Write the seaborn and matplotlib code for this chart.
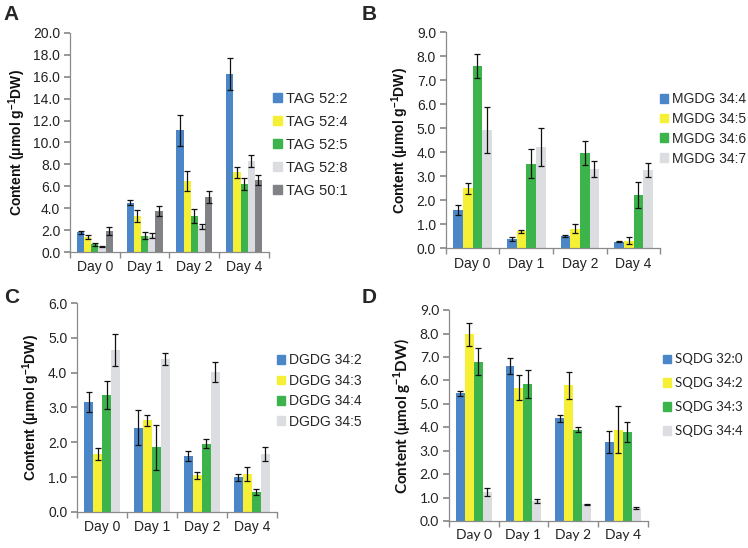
import numpy as np
import pandas as pd
import matplotlib
matplotlib.use("Agg")
import matplotlib.pyplot as plt
import matplotlib.patches as mpatches
from matplotlib.ticker import FormatStrFormatter, MultipleLocator, FixedLocator
import seaborn as sns

days = ["Day 0", "Day 1", "Day 2", "Day 4"]

tag_species = ["TAG 52:2", "TAG 52:4", "TAG 52:5", "TAG 52:8", "TAG 50:1"]
tag_mean = [[1.8, 4.5, 11.1, 16.25],
            [1.4, 3.3, 6.5, 7.3],
            [0.7, 1.5, 3.3, 6.25],
            [0.5, 1.5, 2.35, 8.35],
            [1.95, 3.75, 5.0, 6.55]]
tag_err = [[0.15, 0.25, 1.45, 1.45],
           [0.2, 0.55, 0.9, 0.5],
           [0.15, 0.3, 0.65, 0.55],
           [0.05, 0.2, 0.2, 0.55],
           [0.35, 0.45, 0.55, 0.45]]

mgdg_species = ["MGDG 34:4", "MGDG 34:5", "MGDG 34:6", "MGDG 34:7"]
mgdg_mean = [[1.6, 0.38, 0.5, 0.27],
             [2.5, 0.7, 0.82, 0.32],
             [7.6, 3.52, 3.97, 2.22],
             [4.93, 4.22, 3.3, 3.25]]
mgdg_err = [[0.2, 0.07, 0.05, 0.02],
            [0.22, 0.08, 0.2, 0.13],
            [0.5, 0.6, 0.5, 0.55],
            [0.97, 0.8, 0.32, 0.3]]

dgdg_species = ["DGDG 34:2", "DGDG 34:3", "DGDG 34:4", "DGDG 34:5"]
dgdg_mean = [[3.15, 2.42, 1.6, 1.0],
             [1.65, 2.63, 1.05, 1.08],
             [3.35, 1.85, 1.95, 0.57],
             [4.65, 4.4, 4.02, 1.65]]
dgdg_err = [[0.28, 0.5, 0.15, 0.1],
            [0.17, 0.15, 0.1, 0.2],
            [0.4, 0.65, 0.13, 0.1],
            [0.45, 0.17, 0.28, 0.2]]

sqdg_species = ["SQDG 32:0", "SQDG 34:2", "SQDG 34:3", "SQDG 34:4"]
sqdg_mean = [[5.45, 6.62, 4.38, 3.38],
             [7.97, 5.7, 5.8, 3.9],
             [6.8, 5.85, 3.9, 3.82],
             [1.25, 0.85, 0.72, 0.57]]
sqdg_err = [[0.12, 0.35, 0.15, 0.48],
            [0.48, 0.55, 0.58, 1.0],
            [0.58, 0.6, 0.1, 0.43],
            [0.17, 0.08, 0.01, 0.05]]

blue, yellow, green, lgray, dgray = "#4a86c8", "#f5f035", "#3cb44b", "#dcdde0", "#808285"

sns.set_theme(style="white")
plt.rcParams["font.family"] = ["Liberation Sans", "DejaVu Sans"]
plt.rcParams["mathtext.fontset"] = "custom"
plt.rcParams["mathtext.rm"] = "Liberation Sans"
plt.rcParams["mathtext.bf"] = "Liberation Sans:bold"

fig = plt.figure(figsize=(7.48, 5.48), dpi=100)

panels = [
    dict(letter="A", species=tag_species, mean=tag_mean, err=tag_err,
         colors=[blue, yellow, green, lgray, dgray], ymax=20, step=2,
         rect=[0.0936, 0.540, 0.266, 0.400], leg=(0.365, 0.833), letter_xy=(0.005, 0.99),
         spacing=0.62, font=["Liberation Sans", "DejaVu Sans"], ylsize=10, legsize=10.5),
    dict(letter="B", species=mgdg_species, mean=mgdg_mean, err=mgdg_err,
         colors=[blue, yellow, green, lgray], ymax=9, step=1,
         rect=[0.596, 0.547, 0.287, 0.394], leg=(0.882, 0.832), letter_xy=(0.484, 0.99),
         spacing=0.42, font=["Liberation Sans", "DejaVu Sans"], ylsize=10, legsize=10),
    dict(letter="C", species=dgdg_species, mean=dgdg_mean, err=dgdg_err,
         colors=[blue, yellow, green, lgray], ymax=6, step=1,
         rect=[0.103, 0.066, 0.267, 0.381], leg=(0.370, 0.355), letter_xy=(0.005, 0.475),
         spacing=0.46, font=["Liberation Sans", "DejaVu Sans"], ylsize=10, legsize=10),
    dict(letter="D", species=sqdg_species, mean=sqdg_mean, err=sqdg_err,
         colors=[blue, yellow, green, lgray], ymax=9, step=1,
         rect=[0.600, 0.049, 0.266, 0.385], leg=(0.886, 0.355), letter_xy=(0.484, 0.475),
         spacing=0.9, font=["Lato", "DejaVu Sans"], ylsize=11, legsize=9.5),
]

axcol = "#8a8a8a"
for p in panels:
    ax = fig.add_axes(p["rect"])
    rows = []
    for s, ms in zip(p["species"], p["mean"]):
        for d, m in zip(days, ms):
            rows.append(dict(day=d, species=s, value=m))
    df = pd.DataFrame(rows)
    sns.barplot(data=df, x="day", y="value", hue="species", order=days,
                hue_order=p["species"], palette=p["colors"], errorbar=None,
                width=0.72, saturation=1, legend=False, ax=ax, linewidth=0)
    bar_conts = list(ax.containers)
    for i, cont in enumerate(bar_conts):
        xs = [b.get_x() + b.get_width() / 2 for b in cont]
        hs = [b.get_height() for b in cont]
        ax.errorbar(xs, hs, yerr=p["err"][i], fmt="none", ecolor="#111111",
                    elinewidth=0.9, capsize=2.5, capthick=0.9)
    ax.set_xlim(-0.5, 3.5)
    ax.set_ylim(0, p["ymax"])
    ax.yaxis.set_major_locator(MultipleLocator(p["step"]))
    ax.yaxis.set_major_formatter(FormatStrFormatter("%.1f"))
    ax.xaxis.set_minor_locator(FixedLocator([-0.5, 0.5, 1.5, 2.5, 3.5]))
    ax.tick_params(axis="x", which="major", length=0, pad=6)
    ax.tick_params(axis="x", which="minor", length=4, color=axcol, bottom=True, direction="out")
    ax.tick_params(axis="y", which="major", length=4, color=axcol, left=True, direction="out", pad=3)
    fam = p["font"]
    for lab in ax.get_xticklabels() + ax.get_yticklabels():
        lab.set_fontsize(10)
        lab.set_color("#222222")
        lab.set_family(fam)
    for sp in ["top", "right"]:
        ax.spines[sp].set_visible(False)
    for sp in ["left", "bottom"]:
        ax.spines[sp].set_color(axcol)
        ax.spines[sp].set_linewidth(0.9)
    ax.set_xlabel("")
    ax.set_ylabel(r"Content (μmol g$^{\mathbf{-1}}$DW)", fontsize=p["ylsize"], fontweight="bold",
                  family=fam, color="#111111", labelpad=4)
    handles = [mpatches.Patch(color=c, label=s) for c, s in zip(p["colors"], p["species"])]
    fig.legend(handles=handles, loc="upper left", bbox_to_anchor=p["leg"],
               frameon=False, handlelength=0.6, handleheight=0.6, handletextpad=0.3,
               labelspacing=p["spacing"], prop=dict(family=fam, size=p["legsize"]),
               borderpad=0, borderaxespad=0)
    fig.text(p["letter_xy"][0], p["letter_xy"][1], p["letter"], fontsize=15,
             fontweight="bold", va="top", ha="left",
             family=["Liberation Sans", "DejaVu Sans"])

fig.savefig("out.png", dpi=100)
